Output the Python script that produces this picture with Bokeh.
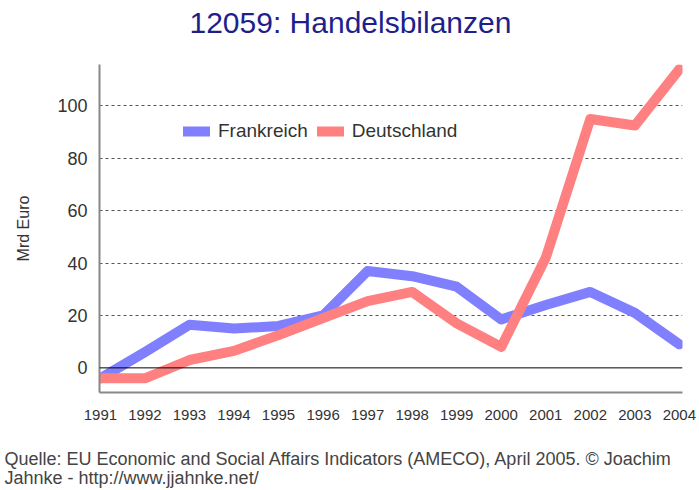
from bokeh.plotting import figure
from bokeh.models import Span, Title, Legend, LegendItem, FixedTicker, Range1d
from bokeh.embed import file_html
from bokeh.resources import INLINE

years = [1991, 1992, 1993, 1994, 1995, 1996, 1997, 1998, 1999, 2000, 2001, 2002, 2003, 2004]
frankreich = [-4, 6, 16.5, 15, 16, 20, 37, 35, 31, 18.5, 24, 29, 21, 9]
deutschland = [-4, -4, 3, 6.5, 12.5, 19, 25.5, 29, 17, 8, 42, 95, 92.5, 114]
y_ticks = [0, 20, 40, 60, 80, 100]
title_text = "12059: Handelsbilanzen"
y_label = "Mrd Euro"
footer1 = "Quelle: EU Economic and Social Affairs Indicators (AMECO), April 2005. \u00a9 Joachim"
footer2 = "Jahnke - http://www.jjahnke.net/"

FONT = "Liberation Sans"

p = figure(width=697, height=488, output_backend="svg", toolbar_location=None,
           x_range=Range1d(1990.98, 2004.07), y_range=Range1d(-9.4, 115.8),
           min_border_left=99, min_border_right=15, min_border_top=64, min_border_bottom=96)
p.outline_line_color = None
p.background_fill_color = "white"

# grid
p.xgrid.visible = False
p.ygrid.ticker = FixedTicker(ticks=[20, 40, 60, 80, 100])
p.ygrid.grid_line_color = "#555555"
p.ygrid.grid_line_dash = "3 3"
p.ygrid.grid_line_width = 1

p.add_layout(Span(location=0, dimension="width", line_color="black", line_width=1))

# axes
p.xaxis.ticker = FixedTicker(ticks=years)
p.yaxis.ticker = FixedTicker(ticks=y_ticks)
for ax in (p.xaxis[0], p.yaxis[0]):
    ax.axis_line_color = "#888888"
    ax.axis_line_width = 2
    ax.major_tick_line_color = None
    ax.minor_tick_line_color = None
    ax.major_tick_out = 0
    ax.major_tick_in = 0
    ax.major_label_text_font = FONT
    ax.major_label_text_color = "#333333"
p.xaxis.major_label_text_font_size = "15px"
p.xaxis.major_label_standoff = 17
p.yaxis.major_label_text_font_size = "18px"
p.yaxis.major_label_standoff = 12
p.yaxis.axis_label = y_label
p.yaxis.axis_label_text_font = FONT
p.yaxis.axis_label_text_font_style = "normal"
p.yaxis.axis_label_text_font_size = "16px"
p.yaxis.axis_label_text_color = "#333333"
p.yaxis.axis_label_standoff = 22

fr = p.line(years, frankreich, line_color="#8080ff", line_width=10, line_cap="round", line_join="round")
de = p.line(years, deutschland, line_color="#ff8080", line_width=10, line_cap="round", line_join="round")

legend = Legend(items=[LegendItem(label="Frankreich", renderers=[fr]),
                       LegendItem(label="Deutschland", renderers=[de])],
                orientation="horizontal", location=(84, 250),
                background_fill_alpha=0, border_line_color=None,
                label_text_font=FONT, label_text_font_size="19px", label_text_color="#333333",
                glyph_width=27, glyph_height=12, label_standoff=8, spacing=9, padding=4, margin=0)
p.add_layout(legend, "center")

# title above the frame (a blank spacer panel sits between frame and title)
p.add_layout(Title(text=" ", text_font_size="10px", standoff=13), "above")
p.add_layout(Title(text=title_text, text_font=FONT, text_font_size="30px", text_font_style="normal",
                   text_color="#1f1f8c", align="left", offset=90, standoff=0), "above")

# footer below the x axis (blank spacer first)
p.add_layout(Title(text=" ", text_font_size="10px", standoff=11), "below")
p.add_layout(Title(text=footer1, text_font=FONT, text_font_size="18px", text_font_style="normal",
                   text_color="#444444", align="left", offset=-95, standoff=0), "below")
p.add_layout(Title(text=footer2, text_font=FONT, text_font_size="18px", text_font_style="normal",
                   text_color="#444444", align="left", offset=-95, standoff=-6), "below")

open("out.html", "w").write(file_html(p, INLINE))
